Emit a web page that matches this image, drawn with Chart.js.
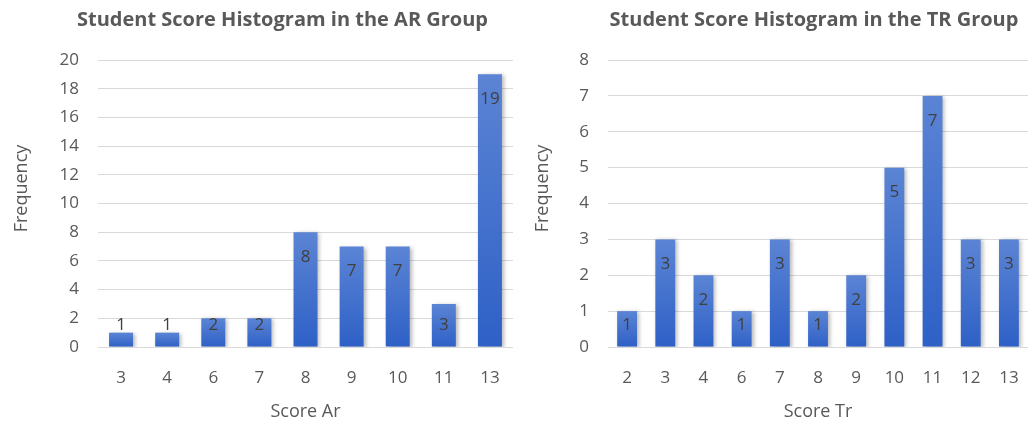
<!DOCTYPE html>
<html>
<head>
<meta charset="utf-8">
<script src="https://cdn.jsdelivr.net/npm/chart.js@4.4.1/dist/chart.umd.min.js"></script>
<style>
  body { margin: 0; background: #fff; }
  .box { position: absolute; top: 0; height: 426px; }
  #b1 { left: 0; width: 520px; }
  #b2 { left: 520px; width: 515px; }
</style>
</head>
<body>
<div class="box" id="b1"><canvas id="chart1"></canvas></div>
<div class="box" id="b2"><canvas id="chart2"></canvas></div>
<script>
const arScores = ['3', '4', '6', '7', '8', '9', '10', '11', '13'];
const arFreq = [1, 1, 2, 2, 8, 7, 7, 3, 19];
const trScores = ['2', '3', '4', '6', '7', '8', '9', '10', '11', '12', '13'];
const trFreq = [1, 3, 2, 1, 3, 1, 2, 5, 7, 3, 3];

const FONT = "'Open Sans', 'Noto Sans', sans-serif";
const grey = '#595959';

// each bar gets its own light-to-dark gradient
function barFill(context) {
    const chart = context.chart;
    if (!chart.chartArea) return '#4472c4';
    const ys = chart.scales.y;
    const top = ys.getPixelForValue(context.raw);
    const base = ys.getPixelForValue(0);
    const g = chart.ctx.createLinearGradient(0, top, 0, base);
    g.addColorStop(0, '#5b84d4');
    g.addColorStop(1, '#2e60c6');
    return g;
}

const barShadow = {
    id: 'barShadow',
    beforeDatasetDraw(chart) {
        const c = chart.ctx;
        c.save();
        c.shadowColor = 'rgba(0,0,0,0.28)';
        c.shadowBlur = 4;
        c.shadowOffsetX = 2;
        c.shadowOffsetY = 1;
    },
    afterDatasetDraw(chart) {
        chart.ctx.restore();
    }
};

// value labels near the inside top of each bar
const valueLabels = {
    id: 'valueLabels',
    afterDatasetsDraw(chart) {
        const c = chart.ctx;
        const meta = chart.getDatasetMeta(0);
        const data = chart.data.datasets[0].data;
        c.save();
        c.font = '17px ' + FONT;
        c.fillStyle = '#404040';
        c.textAlign = 'center';
        c.textBaseline = 'middle';
        meta.data.forEach((bar, i) => {
            const y = Math.min(bar.y + 25, bar.base - 21);
            c.fillText(String(data[i]), bar.x, y);
        });
        c.restore();
    }
};

// nudge the chart title sideways, and draw the y title a bit above centre like Excel
const titleNudge = {
    id: 'titleNudge',
    afterLayout(chart, args, opts) {
        chart.titleBlock.left += opts.shift;
        chart.titleBlock.right += opts.shift;
    },
    afterDraw(chart, args, opts) {
        const c = chart.ctx;
        const a = chart.chartArea;
        c.save();
        c.translate(opts.yTitleX, (a.top + a.bottom) / 2 - 15);
        c.rotate(-Math.PI / 2);
        c.font = '18px ' + FONT;
        c.fillStyle = grey;
        c.textAlign = 'center';
        c.textBaseline = 'middle';
        c.fillText('Frequency', 0, 0);
        c.restore();
    }
};

function makeChart(id, labels, values, title, xTitle, yMax, yStep, yWidth, shift, yTitleX) {
    return new Chart(document.getElementById(id).getContext('2d'), {
        type: 'bar',
        data: {
            labels: labels,
            datasets: [{
                data: values,
                backgroundColor: barFill,
                borderWidth: 0,
                barPercentage: 0.52,
                categoryPercentage: 1
            }]
        },
        options: {
            responsive: true,
            maintainAspectRatio: false,
            animation: false,
            layout: { padding: { left: 0, right: 7, top: 0, bottom: 0 } },
            plugins: {
                legend: { display: false },
                tooltip: { enabled: false },
                title: {
                    display: true,
                    text: title,
                    color: grey,
                    font: { family: FONT, size: 20, weight: 'bold', lineHeight: 1.2 },
                    padding: { top: 8, bottom: 28 }
                },
                titleNudge: { shift: shift, yTitleX: yTitleX }
            },
            scales: {
                x: {
                    grid: { display: false },
                    border: { display: false },
                    ticks: { color: grey, font: { family: FONT, size: 17 }, padding: 13 },
                    title: {
                        display: true,
                        text: xTitle,
                        color: grey,
                        font: { family: FONT, size: 18, lineHeight: 1.2 },
                        padding: { top: 0, bottom: 3 }
                    },
                    afterFit(s) { s.height = 79; }
                },
                y: {
                    min: 0,
                    max: yMax,
                    grid: { color: '#d9d9d9', lineWidth: 1, drawTicks: false },
                    border: { display: false },
                    ticks: { stepSize: yStep, color: grey, font: { family: FONT, size: 17 }, padding: 19 },
                    afterFit(s) { s.width = yWidth; }
                }
            }
        },
        plugins: [barShadow, valueLabels, titleNudge]
    });
}

makeChart('chart1', arScores, arFreq, 'Student Score Histogram in the AR Group', 'Score Ar', 20, 2, 98, 26, 22);
makeChart('chart2', trScores, trFreq, 'Student Score Histogram in the TR Group', 'Score Tr', 8, 1, 88, 40, 23);
</script>
</body>
</html>
